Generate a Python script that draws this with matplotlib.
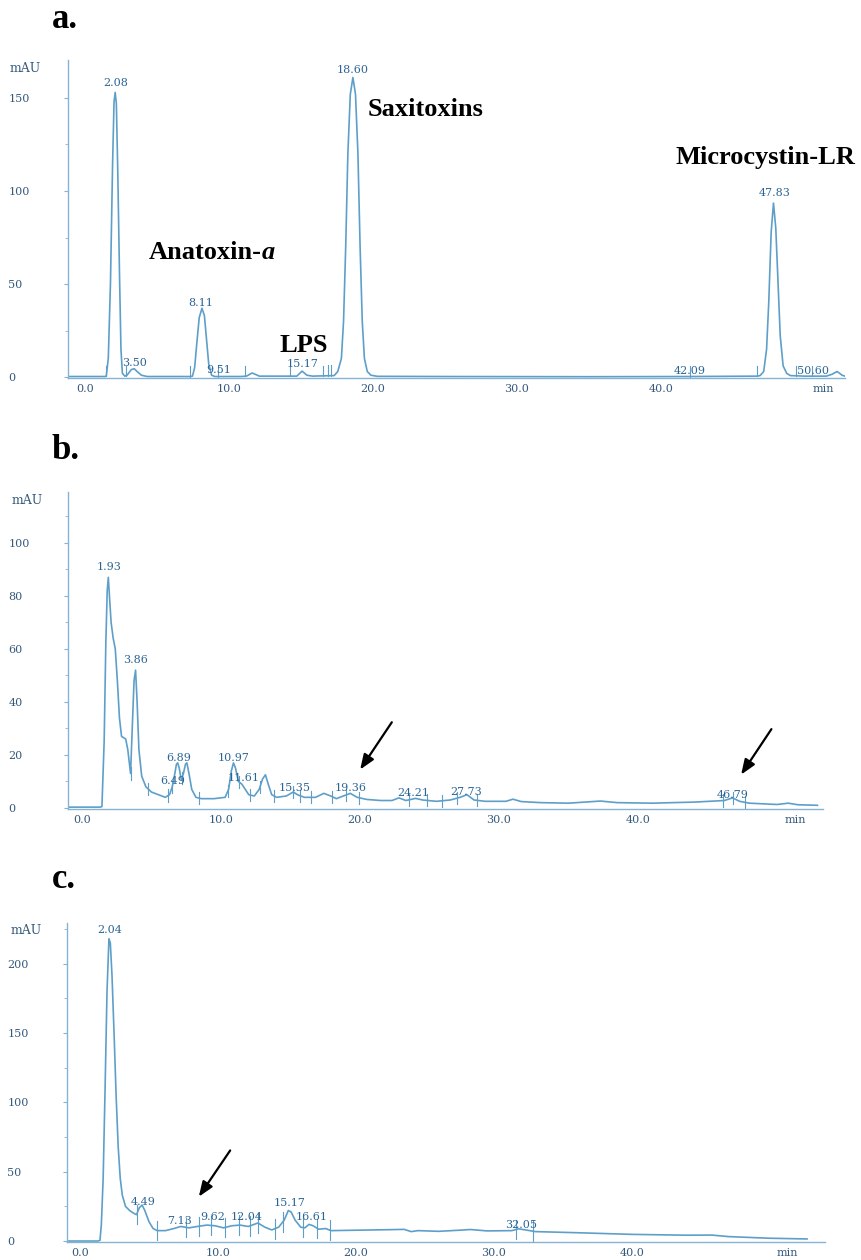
import numpy as np
import matplotlib
matplotlib.use("Agg")
import matplotlib.pyplot as plt

# ---- data (time in min, signal in mAU) ----
ta = [-1.2, 1.4, 1.46, 1.6, 1.75, 1.9, 2.0, 2.08, 2.16, 2.26, 2.38, 2.48, 2.58, 2.75, 2.9, 3.2, 3.4, 3.6, 3.9, 4.3,
      7.3, 7.45, 7.6, 7.75, 7.92, 8.11, 8.28, 8.43, 8.58, 8.78, 9.0, 10.8, 11.2, 11.6, 12.1, 14.7, 15.07, 15.4, 15.8,
      17.3, 17.55, 17.8, 17.95, 18.1, 18.25, 18.42, 18.6, 18.78, 18.95, 19.1, 19.25, 19.4, 19.6, 19.85, 20.3,
      25.0, 35.0, 42.0, 46.7, 46.9, 47.15, 47.35, 47.5, 47.67, 47.83, 47.99, 48.15, 48.3, 48.5, 48.75, 49.0,
      50.0, 51.5, 51.9, 52.25, 52.6, 52.8]
ya = [0.3, 0.3, 0.5, 10, 50, 115, 148, 153, 147, 110, 55, 15, 2, 0.5, 1, 4, 4.5, 3, 1, 0.3,
      0.3, 0.5, 5, 18, 32, 37, 33, 20, 7, 1, 0.3, 0.3, 0.5, 2.2, 0.5, 0.5, 3.2, 1.0, 0.5,
      0.8, 3, 10, 30, 70, 120, 152, 161, 152, 120, 70, 30, 10, 3, 1, 0.4,
      0.3, 0.2, 0.3, 0.5, 0.8, 3, 15, 40, 78, 93.5, 80, 50, 22, 6, 2, 0.8,
      0.5, 0.5, 1.5, 3, 1, 0.5]

tb = [-1.0, 1.3, 1.44, 1.6, 1.72, 1.82, 1.9, 1.98, 2.1, 2.25, 2.4, 2.55, 2.7, 2.85, 3.0, 3.15, 3.3, 3.5, 3.62,
      3.75, 3.86, 3.97, 4.1, 4.3, 4.6, 5.0, 5.5, 6.0, 6.3, 6.5, 6.65, 6.8, 6.89, 7.0, 7.15, 7.3, 7.45, 7.55, 7.7,
      7.9, 8.2, 8.6, 9.5, 10.3, 10.55, 10.75, 10.9, 11.05, 11.25, 11.5, 11.75, 12.0, 12.4, 12.75, 13.0, 13.2,
      13.4, 13.65, 14.0, 14.7, 15.2, 15.5, 16.0, 16.8, 17.4, 17.9, 18.3, 18.8, 19.3, 19.8, 20.5, 21.5, 22.3,
      22.8, 23.3, 24.0, 24.5, 25.5, 26.5, 27.2, 27.7, 28.2, 29.0, 30.5, 31.0, 31.6, 33.0, 35.0, 37.3, 38.5,
      41.0, 44.0, 45.5, 46.2, 46.8, 47.3, 48.0, 50.0, 50.8, 51.5, 52.9]
yb = [0.3, 0.3, 0.5, 25, 62, 82, 87, 80, 70, 64, 60, 48, 34, 27, 26.5, 26, 22, 13, 30,
      48, 52, 40, 22, 12, 8, 6, 5, 4, 5, 8, 12, 16.5, 17, 15, 10.5, 13, 16.5, 17, 13,
      7, 4, 3.5, 3.5, 4, 7, 14, 17, 15, 10, 9, 7, 5, 4.5, 7, 11, 12.5,
      9, 5, 4, 4.5, 6, 5, 4, 4, 5.5, 4.5, 3.5, 4.5, 5.5, 4, 3.2, 2.8, 2.8,
      3.8, 2.8, 3.6, 3, 2.5, 3, 4, 5, 3, 2.5, 2.5, 3.3, 2.4, 2, 1.8, 2.6, 2,
      1.8, 2.2, 2.6, 2.8, 3.8, 2.5, 1.8, 1.3, 1.8, 1.2, 1.0]

tc = [-0.95, 1.3, 1.45, 1.55, 1.68, 1.82, 1.96, 2.1, 2.2, 2.32, 2.47, 2.62, 2.77, 2.92, 3.07, 3.3, 3.6, 3.9,
      4.1, 4.3, 4.5, 4.7, 5.0, 5.3, 5.6, 6.2, 6.8, 7.3, 7.9, 8.5, 9.2, 9.8, 10.4, 11.0, 11.6, 12.2, 12.9,
      13.4, 13.9, 14.4, 14.8, 15.1, 15.3, 15.6, 16.0, 16.3, 16.6, 16.9, 17.3, 17.8, 18.2, 20.0, 22.5, 23.5,
      24.0, 24.5, 26.0, 27.5, 28.3, 29.5, 31.3, 31.8, 32.3, 33.0, 36.0, 40.0, 44.0, 45.8, 47.0, 50.0, 52.7]
yc = [0, 0, 0.5, 12, 45, 110, 180, 218, 215, 192, 150, 105, 68, 45, 33, 25, 22, 20,
      19, 24, 26, 22, 14, 9, 7.5, 7.5, 9, 10.5, 9.5, 10.5, 11.5, 11, 9.5, 11, 11.5, 10.5, 13,
      10, 8, 10, 15, 22, 21, 15, 10, 9.5, 12, 11, 8.5, 9, 7.5, 7.8, 8.2, 8.4,
      6.8, 7.5, 7, 7.8, 8.3, 7.3, 7.5, 8.8, 8, 6.8, 6, 4.8, 4.2, 4.3, 3.2, 2, 1.5]

# peak labels: text, x, y (label centre)
labels_a = ["2.08", "3.50", "8.11", "9.51", "15.17", "18.60", "42.09", "47.83", "50.60"]
lx_a = [2.08, 3.4, 8.0, 9.25, 15.07, 18.6, 42.0, 47.9, 50.6]
ly_a = [158, 7.5, 40, 3.8, 7, 165, 3.5, 99, 3.5]

labels_b = ["1.93", "3.86", "6.49", "6.89", "10.97", "11.61", "15.35", "19.36", "24.21", "27.73", "46.79"]
lx_b = [1.93, 3.86, 6.5, 6.95, 10.9, 11.6, 15.3, 19.3, 23.8, 27.6, 46.8]
ly_b = [91, 56, 10, 19, 19, 11.3, 7.5, 7.5, 5.7, 5.9, 5.0]

labels_c = ["2.04", "4.49", "7.13", "9.62", "12.04", "15.17", "16.61", "32.05"]
lx_c = [2.17, 4.6, 7.25, 9.65, 12.1, 15.2, 16.8, 32.0]
ly_c = [224, 28, 14.4, 17.3, 17.3, 27.4, 17.3, 11.5]

# integration marks (baseline event ticks)
marks_a = [1.46, 2.8, 7.3, 9.25, 11.1, 14.2, 16.5, 16.9, 17.05, 42.0, 46.7, 49.4, 50.5]
marks_b = [3.5, 4.75, 6.2, 6.5, 7.2, 8.4, 10.5, 11.3, 12.1, 12.8, 13.8, 15.2, 15.7, 16.5, 18.0, 19.0, 19.9,
           23.5, 24.8, 25.9, 27.0, 28.4, 46.1, 46.8, 47.7]
marks_c = [4.1, 5.6, 7.7, 8.6, 9.5, 10.5, 11.5, 12.3, 12.9, 14.1, 14.7, 16.2, 17.2, 18.1, 31.6, 32.8]

W, H = 862, 1260
line_col = "#5e9fc9"
axis_col = "#86b3d3"
tick_col = "#34597a"
lab_col = "#2b6494"

fig = plt.figure(figsize=(W / 100, H / 100), dpi=100)


def px_axes(left, top, right, bottom):
    return fig.add_axes([left / W, 1 - bottom / H, (right - left) / W, (bottom - top) / H])


def chromatogram(ax, t, y, xlim, ylim, yticks, yminor, labels, lx, ly, marks, mlo, mhi):
    ax.plot(t, y, color=line_col, lw=1.2)
    for m in marks:
        v = np.interp(m, t, y)
        ax.plot([m, m], [v + mlo, v + mhi], color=line_col, lw=0.8)
    for s, x0, y0 in zip(labels, lx, ly):
        ax.text(x0, y0, s, color=lab_col, fontsize=8, family="DejaVu Serif",
                ha="center", va="center")
    ax.set_xlim(*xlim)
    ax.set_ylim(*ylim)
    for sp in ["top", "right"]:
        ax.spines[sp].set_visible(False)
    for sp in ["left", "bottom"]:
        ax.spines[sp].set_color(axis_col)
        ax.spines[sp].set_linewidth(1.0)
    ax.set_xticks([0, 10, 20, 30, 40, 51.3], ["0.0", "10.0", "20.0", "30.0", "40.0", "min"])
    ax.set_yticks(yticks, [str(v) for v in yticks])
    ax.set_yticks(yminor, minor=True)
    ax.tick_params(axis="x", length=0, pad=4, labelsize=8, labelcolor=tick_col)
    ax.tick_params(axis="y", which="both", length=3, color=axis_col, pad=40, labelsize=8,
                   labelcolor=tick_col)
    ax.tick_params(axis="y", which="minor", length=2)
    for lab in ax.get_yticklabels() + ax.get_xticklabels():
        lab.set_family("DejaVu Serif")
    for lab in ax.get_yticklabels():
        lab.set_horizontalalignment("left")
    ax.text(-0.075, 1.0 - 8 / (ax.get_position().height * H), "mAU", transform=ax.transAxes,
            color=tick_col, fontsize=9, family="DejaVu Serif", ha="left", va="center")
    ax.patch.set_alpha(0)


big = dict(family=["Liberation Serif", "DejaVu Serif"], fontweight="bold", color="black")

# panel a
axa = px_axes(68, 60, 845, 378)
chromatogram(axa, ta, ya, (-1.2, 52.8), (-0.5, 170.4), [0, 50, 100, 150], [25, 75, 125],
             labels_a, lx_a, ly_a, marks_a, 0, 5.5)
axa.text(19.6, 144, "Saxitoxins", fontsize=19, ha="left", va="center", **big)
axa.text(41.0, 118, "Microcystin-LR", fontsize=19, ha="left", va="center", **big)
t1 = axa.text(4.4, 67, "Anatoxin-", fontsize=19, ha="left", va="center", **big)
axa.annotate("a", xy=(1, 0), xycoords=t1, fontsize=19, ha="left", va="bottom",
             family=["Liberation Serif", "DejaVu Serif"], fontweight="bold", fontstyle="italic")
axa.text(13.5, 17, "LPS", fontsize=19, ha="left", va="center", **big)

# panel b
axb = px_axes(68, 492, 823, 809)
chromatogram(axb, tb, yb, (-1.0, 53.3), (-0.4, 119.2), [0, 20, 40, 60, 80, 100],
             [10, 30, 50, 70, 90, 110], labels_b, lx_b, ly_b, marks_b, -2.3, 2.3)
arrow = dict(arrowstyle="-|>,head_length=0.9,head_width=0.35", color="black", lw=1.6)
axb.annotate("", xy=(19.9, 13.6), xytext=(22.4, 33.2), arrowprops=arrow)
axb.annotate("", xy=(47.3, 11.7), xytext=(49.7, 30.6), arrowprops=arrow)

# panel c
axc = px_axes(67, 923, 825, 1242)
chromatogram(axc, tc, yc, (-0.94, 54.0), (-0.7, 229.4), [0, 50, 100, 150, 200],
             [25, 75, 125, 175, 225], labels_c, lx_c, ly_c, marks_c, -7, 7)
axc.annotate("", xy=(8.5, 30.3), xytext=(11.0, 67), arrowprops=arrow)

for s, yy in [("a.", 20), ("b.", 450), ("c.", 880)]:
    fig.text(52 / W, 1 - yy / H, s, fontsize=25, ha="left", va="center", **big)

fig.savefig("out.png", dpi=100, facecolor="white")
